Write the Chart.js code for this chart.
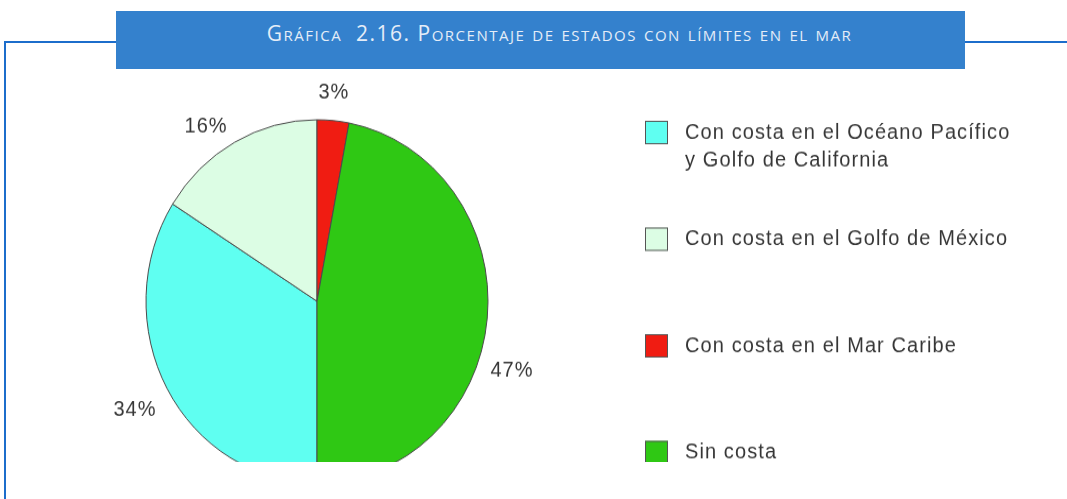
<!DOCTYPE html>
<html lang="es">
<head>
<meta charset="utf-8">
<title>Porcentaje de estados con límites en el mar</title>
<script src="https://cdn.jsdelivr.net/npm/chart.js@4.4.1/dist/chart.umd.min.js"></script>
<style>
  html, body { margin: 0; padding: 0; background: #fff; }
  body { width: 1067px; height: 499px; position: relative; overflow: hidden; }
  .linea-h { position: absolute; left: 4px; top: 41px; width: 1063px; height: 2px; background: #1c6dcb; }
  .linea-v { position: absolute; left: 4px; top: 41px; width: 2px; height: 458px; background: #1c6dcb; }
  .titulo {
    position: absolute; left: 116px; top: 11px; width: 849px; height: 58px;
    box-sizing: border-box; padding-left: 38px;
    background: #3481cd; color: #e4edf8; text-align: center;
    font-family: "Open Sans", Lato, sans-serif; font-size: 21px; font-variant: small-caps;
    line-height: 45px; letter-spacing: 1.5px; white-space: pre;
  }
  .grafica { position: absolute; left: 0; top: 72px; width: 1067px; height: 390px; overflow: hidden; }
  .grafica canvas { transform: scaleY(1.0614); transform-origin: 0 0; filter: blur(0.4px); }
</style>
</head>
<body>
<div class="linea-h"></div>
<div class="linea-v"></div>
<div class="titulo">Gráfica  2.16. Porcentaje de estados con límites en el mar</div>
<div class="grafica"><canvas id="pastel" width="1067" height="432"></canvas></div>

<script>
// categorías y porcentajes (orden de la leyenda)
const categorias = [
    ['Con costa en el Océano Pacífico', 'y Golfo de California'],
    'Con costa en el Golfo de México',
    'Con costa en el Mar Caribe',
    'Sin costa'
];
const porcentajes = [34, 16, 3, 47];
const colores = ['#5ffff1', '#dcfde4', '#f01c12', '#2fc814'];

const FUENTE = '20px "Liberation Sans", Arial, sans-serif';
const TEXTO = '#363636';

// etiquetas de porcentaje fuera de cada rebanada
const etiquetasPct = {
    id: 'etiquetasPct',
    afterDatasetsDraw(chart, args, opts) {
        const ctx = chart.ctx;
        const arcs = chart.getDatasetMeta(0).data;
        ctx.save();
        ctx.font = FUENTE;
        ctx.fillStyle = TEXTO;
        ctx.textAlign = 'center';
        ctx.textBaseline = 'middle';
        ctx.letterSpacing = '1px';
        arcs.forEach((arc, i) => {
            const ang = (arc.startAngle + arc.endAngle) / 2 + opts.giro[i] * Math.PI / 180;
            const d = arc.outerRadius * opts.distancia[i];
            const x = arc.x + Math.cos(ang) * d;
            const y = arc.y + Math.sin(ang) * d;
            ctx.fillText(porcentajes[i] + '%', x, y);
        });
        ctx.restore();
    }
};

// leyenda a la derecha, con cuadros de color
const leyenda = {
    id: 'leyenda',
    afterDraw(chart, args, opts) {
        const ctx = chart.ctx;
        const fondo = chart.data.datasets[0].backgroundColor;
        ctx.save();
        ctx.font = FUENTE;
        ctx.textBaseline = 'middle';
        ctx.letterSpacing = '1.1px';
        chart.data.labels.forEach((lab, i) => {
            const cy = opts.y0 + i * opts.paso;
            ctx.fillStyle = fondo[i];
            ctx.fillRect(opts.x, cy - opts.lado / 2, opts.lado + 1, opts.lado);
            ctx.strokeStyle = '#555';
            ctx.lineWidth = 1;
            ctx.strokeRect(opts.x + 0.5, cy - opts.lado / 2 + 0.5, opts.lado, opts.lado - 1);
            ctx.fillStyle = TEXTO;
            const lineas = Array.isArray(lab) ? lab : [lab];
            lineas.forEach((t, j) => ctx.fillText(t, opts.xTexto, cy + j * opts.interlinea));
        });
        ctx.restore();
    }
};

new Chart(document.getElementById('pastel'), {
    type: 'pie',
    data: {
        labels: categorias,
        datasets: [{
            data: porcentajes,
            backgroundColor: colores,
            borderColor: '#4a4a4a',
            borderWidth: 1,
            radius: 171
        }]
    },
    options: {
        responsive: false,
        animation: false,
        events: [],
        rotation: 180,
        layout: { padding: { left: 0, right: 433, top: 0, bottom: 0 } },
        plugins: {
            legend: { display: false },
            tooltip: { enabled: false },
            etiquetasPct: {
                giro: [-0.7, -5.2, -0.5, 13.2],
                distancia: [1.223, 1.16, 1.153, 1.203]
            },
            leyenda: { x: 645, xTexto: 685, y0: 57, paso: 100.5, lado: 22, interlinea: 26.4 }
        }
    },
    plugins: [etiquetasPct, leyenda]
});
</script>
</body>
</html>
